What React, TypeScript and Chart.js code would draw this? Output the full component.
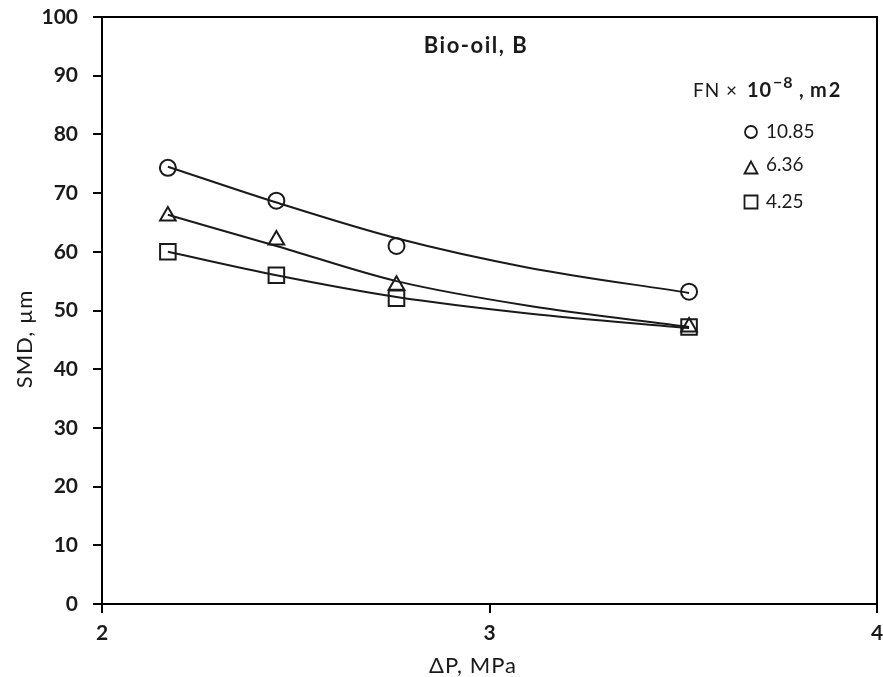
import React, { useEffect, useRef } from "react";
import { Chart, registerables } from "chart.js";

Chart.register(...registerables);

const pressure = [2.17, 2.45, 2.76, 3.515];
const smd1085 = [74.3, 68.7, 61.0, 53.2];
const smd636 = [66.1, 62.0, 54.3, 47.2];
const smd425 = [60.0, 56.0, 52.1, 47.2];

const trendX = [2.17, 2.45, 2.76, 3.1, 3.515];
const trend1085 = [74.5, 68.4, 62.3, 57.3, 53.0];
const trend636 = [66.3, 61.0, 55.0, 50.8, 47.2];
const trend425 = [60.0, 56.0, 52.3, 49.5, 47.0];

const legendLabels = ["10.85", "6.36", "4.25"];
const legendStyles = ["circle", "triangle", "rect"];
const title = "Bio-oil, B";
const xTitle = "\u0394P, MPa";
const yTitle = "SMD, \u00b5m";

const FONT = "Lato, 'Open Sans', sans-serif";
const INK = "#1a1a1a";

const pts = (xs: number[], ys: number[]) => xs.map((x, i) => ({ x, y: ys[i] }));

function shape(ctx: CanvasRenderingContext2D, style: string, x: number, y: number) {
  ctx.beginPath();
  if (style === "circle") {
    ctx.arc(x, y, 6, 0, Math.PI * 2);
  } else if (style === "triangle") {
    ctx.moveTo(x, y - 6.5);
    ctx.lineTo(x + 6.5, y + 5.5);
    ctx.lineTo(x - 6.5, y + 5.5);
    ctx.closePath();
  } else {
    ctx.rect(x - 6.5, y - 6.5, 13, 13);
  }
  ctx.stroke();
}

const overlay = {
  id: "overlay",
  afterDraw(chart: any) {
    const ctx = chart.ctx as any;
    const a = chart.chartArea;
    ctx.save();
    ctx.strokeStyle = "#000";
    ctx.lineWidth = 2;
    ctx.strokeRect(a.left, a.top, a.right - a.left, a.bottom - a.top);

    ctx.fillStyle = INK;
    ctx.textBaseline = "alphabetic";
    ctx.textAlign = "center";
    ctx.letterSpacing = "1.5px";
    ctx.font = `bold 22px ${FONT}`;
    ctx.fillText(title, 476, 53);

    // axis titles
    ctx.letterSpacing = "1px";
    ctx.font = `22px ${FONT}`;
    ctx.fillText(xTitle, 473, 673);
    ctx.save();
    ctx.translate(32, 339);
    ctx.rotate(-Math.PI / 2);
    ctx.fillText(yTitle, 0, 0);
    ctx.restore();

    // legend header: FN × 10^-8, m2
    ctx.textAlign = "left";
    const by = 97;
    ctx.letterSpacing = "1px";
    ctx.font = `19px ${FONT}`;
    ctx.fillText("FN", 693, by);
    ctx.fillText("\u00d7", 726, by);
    ctx.font = `bold 20px ${FONT}`;
    ctx.fillText("10", 747, by);
    ctx.font = `bold 16px ${FONT}`;
    ctx.fillText("\u22128", 773, by - 9);
    ctx.font = `bold 20px ${FONT}`;
    ctx.letterSpacing = "0px";
    ctx.fillText(",", 799, by);
    ctx.letterSpacing = "2px";
    ctx.fillText("m2", 810, by);

    ctx.letterSpacing = "0px";
    ctx.font = `19px ${FONT}`;
    const ys = [132, 168, 202];
    legendLabels.forEach((lab, i) => {
      ctx.strokeStyle = INK;
      ctx.lineWidth = 1.8;
      shape(ctx, legendStyles[i], 751, ys[i]);
      ctx.fillStyle = INK;
      ctx.textBaseline = "middle";
      ctx.fillText(lab, 766, ys[i] - (i === 1 ? 3 : 0));
    });
    ctx.restore();
  },
};

export default function App() {
  const ref = useRef<HTMLCanvasElement | null>(null);
  useEffect(() => {
    document.body.style.margin = "0";
    const marker = (data: number[], style: string, r: number) => ({
      data: pts(pressure, data),
      showLine: false,
      pointStyle: style,
      pointRadius: r,
      pointBorderWidth: 2,
      pointBorderColor: INK,
      pointBackgroundColor: "rgba(0,0,0,0)",
      order: 2,
    });
    const trend = (data: number[]) => ({
      data: pts(trendX, data),
      showLine: true,
      borderColor: INK,
      borderWidth: 2,
      pointRadius: 0,
      cubicInterpolationMode: "monotone",
      order: 1,
    });
    const chart = new Chart(ref.current!, {
      type: "scatter",
      data: {
        datasets: [
          marker(smd1085, "circle", 8),
          marker(smd636, "triangle", 9),
          marker(smd425, "rect", 11),
          trend(trend1085),
          trend(trend636),
          trend(trend425),
        ] as any,
      },
      options: {
        animation: false,
        responsive: false,
        maintainAspectRatio: false,
        layout: { autoPadding: false, padding: { top: 17, right: 6, left: 0, bottom: 0 } },
        plugins: { legend: { display: false }, tooltip: { enabled: false } },
        scales: {
          x: {
            type: "linear",
            min: 2,
            max: 4,
            ticks: { stepSize: 1, color: INK, font: { family: FONT, size: 21, weight: "bold" }, padding: 8 },
            grid: { drawOnChartArea: false, drawTicks: true, tickLength: 9, color: "#000", lineWidth: 2 },
            border: { display: true, color: "#000", width: 2 },
            afterFit: (s: any) => { s.height = 73; s.paddingLeft = 0; s.paddingRight = 0; },
          },
          y: {
            type: "linear",
            min: 0,
            max: 100,
            ticks: { stepSize: 10, color: INK, font: { family: FONT, size: 21, weight: "bold" }, padding: 15 },
            grid: { drawOnChartArea: false, drawTicks: true, tickLength: 9, color: "#000", lineWidth: 2 },
            border: { display: true, color: "#000", width: 2 },
            afterFit: (s: any) => { s.width = 102; s.paddingTop = 0; s.paddingBottom = 0; },
          },
        },
      } as any,
      plugins: [overlay],
    });
    return () => chart.destroy();
  }, []);
  return (
    <div style={{ width: 883, height: 677 }}>
      <canvas ref={ref} width={883} height={677} style={{ display: "block" }} />
    </div>
  );
}
